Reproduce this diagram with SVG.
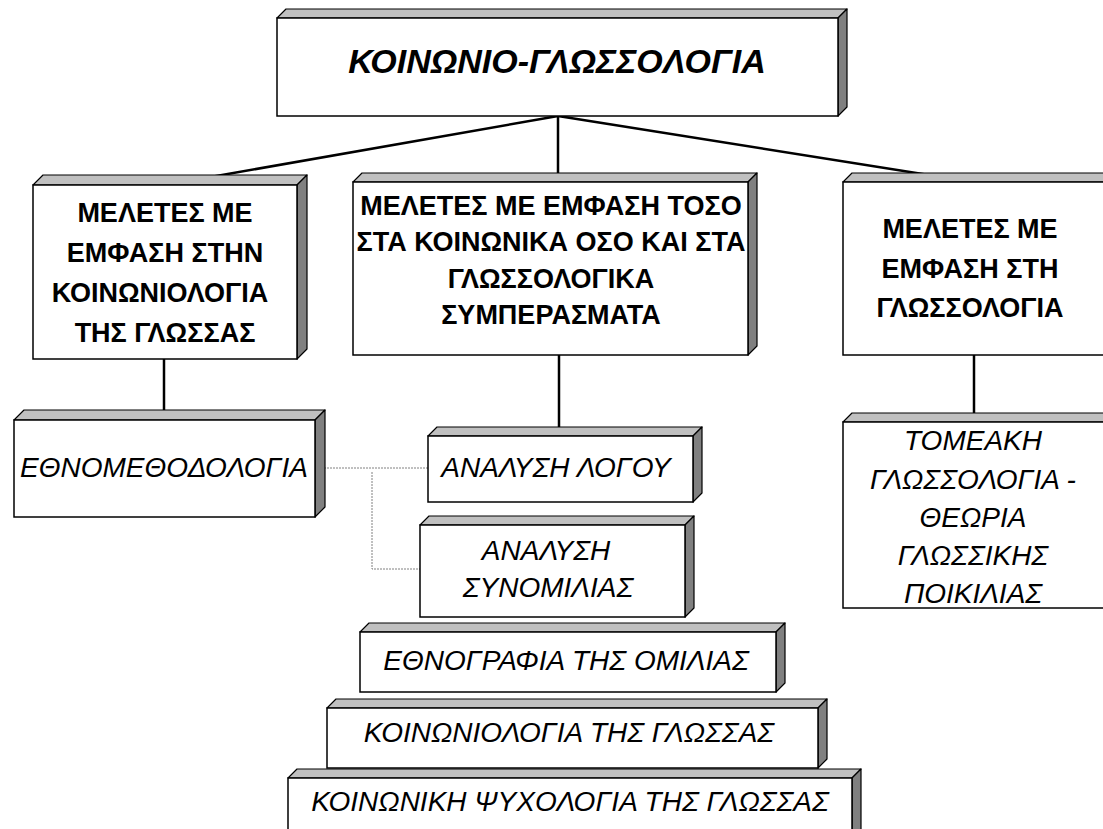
<svg xmlns="http://www.w3.org/2000/svg" width="1103" height="829" viewBox="0 0 1103 829">
  <style>
    .front { fill: #ffffff; stroke: #000000; stroke-width: 1.5; }
    .top { fill: #c0c0c0; stroke: #000000; stroke-width: 1.2; stroke-linejoin: round; }
    .side { fill: #808080; stroke: #000000; stroke-width: 1.2; stroke-linejoin: round; }
    .bold { font-family: "Liberation Sans", Arial, sans-serif; font-weight: bold; font-size: 27px; fill: #000; text-anchor: middle; }
    .title { font-family: "Liberation Sans", Arial, sans-serif; font-weight: bold; font-style: italic; font-size: 34px; fill: #000; text-anchor: middle; }
    .ital { font-family: "Liberation Sans", Arial, sans-serif; font-style: italic; font-size: 28px; fill: #000; text-anchor: middle; }
    .link { stroke: #000000; stroke-width: 2.5; fill: none; }
    .dot { stroke: #808080; stroke-width: 1; stroke-dasharray: 2 1; fill: none; }
  </style>

  <!-- connectors -->
  <g id="connectors">
    <line class="link" x1="558" y1="116" x2="165" y2="185"/>
    <line class="link" x1="558" y1="116" x2="558" y2="182"/>
    <line class="link" x1="558" y1="116" x2="973" y2="182"/>
    <line class="link" x1="164" y1="359" x2="164" y2="420"/>
    <line class="link" x1="559" y1="355" x2="559" y2="436"/>
    <line class="link" x1="974" y1="355" x2="974" y2="422"/>
    <polyline class="dot" points="315,468 428,468"/>
    <polyline class="dot" points="372,472 372,569 420,569"/>
  </g>

  <!-- title block -->
  <g id="n-title">
    <polygon class="top" points="277,18 286,9 847,9 838,18"/>
    <polygon class="side" points="838,18 847,9 847,107 838,116"/>
    <rect class="front" x="277" y="18" width="561" height="98"/>
    <text class="title" x="557" y="73">ΚΟΙΝΩΝΙΟ-ΓΛΩΣΣΟΛΟΓΙΑ</text>
  </g>

  <g id="n-sociology">
    <polygon class="top" points="33,185 43,175 307,175 297,185"/>
    <polygon class="side" points="297,185 307,175 307,349 297,359"/>
    <rect class="front" x="33" y="185" width="264" height="174"/>
    <text class="bold" x="165" y="222">ΜΕΛΕΤΕΣ ΜΕ</text>
    <text class="bold" x="165" y="262">ΕΜΦΑΣΗ ΣΤΗΝ</text>
    <text class="bold" x="160" y="302">ΚΟΙΝΩΝΙΟΛΟΓΙΑ</text>
    <text class="bold" x="165" y="342">ΤΗΣ ΓΛΩΣΣΑΣ</text>
  </g>

  <g id="n-both">
    <polygon class="top" points="353,182 362,173 757,173 748,182"/>
    <polygon class="side" points="748,182 757,173 757,346 748,355"/>
    <rect class="front" x="353" y="182" width="395" height="173"/>
    <text class="bold" x="551" y="215">ΜΕΛΕΤΕΣ ΜΕ ΕΜΦΑΣΗ ΤΟΣΟ</text>
    <text class="bold" x="551" y="251">ΣΤΑ ΚΟΙΝΩΝΙΚΑ ΟΣΟ ΚΑΙ ΣΤΑ</text>
    <text class="bold" x="551" y="288">ΓΛΩΣΣΟΛΟΓΙΚΑ</text>
    <text class="bold" x="551" y="324">ΣΥΜΠΕΡΑΣΜΑΤΑ</text>
  </g>

  <g id="n-linguistics">
    <polygon class="top" points="843,182 852,173 1120,173 1111,182"/>
    <rect class="front" x="843" y="182" width="268" height="173"/>
    <text class="bold" x="970" y="238">ΜΕΛΕΤΕΣ ΜΕ</text>
    <text class="bold" x="970" y="278">ΕΜΦΑΣΗ ΣΤΗ</text>
    <text class="bold" x="970" y="317">ΓΛΩΣΣΟΛΟΓΙΑ</text>
  </g>

  <g id="n-ethnomethodology">
    <polygon class="top" points="14,420 24,410 325,410 315,420"/>
    <polygon class="side" points="315,420 325,410 325,507 315,517"/>
    <rect class="front" x="14" y="420" width="301" height="97"/>
    <text class="ital" x="164" y="477">ΕΘΝΟΜΕΘΟΔΟΛΟΓΙΑ</text>
  </g>

  <g id="n-discourse">
    <polygon class="top" points="428,436 437,427 702,427 693,436"/>
    <polygon class="side" points="693,436 702,427 702,493 693,502"/>
    <rect class="front" x="428" y="436" width="265" height="66"/>
    <text class="ital" x="556" y="477">ΑΝΑΛΥΣΗ ΛΟΓΟΥ</text>
  </g>

  <g id="n-conversation">
    <polygon class="top" points="420,525 429,516 694,516 685,525"/>
    <polygon class="side" points="685,525 694,516 694,608 685,617"/>
    <rect class="front" x="420" y="525" width="265" height="92"/>
    <text class="ital" x="546" y="560">ΑΝΑΛΥΣΗ</text>
    <text class="ital" x="548" y="597">ΣΥΝΟΜΙΛΙΑΣ</text>
  </g>

  <g id="n-ethnography">
    <polygon class="top" points="360,632 369,623 785,623 776,632"/>
    <polygon class="side" points="776,632 785,623 785,683 776,692"/>
    <rect class="front" x="360" y="632" width="416" height="60"/>
    <text class="ital" x="566" y="670">ΕΘΝΟΓΡΑΦΙΑ ΤΗΣ ΟΜΙΛΙΑΣ</text>
  </g>

  <g id="n-sociology-of-language">
    <polygon class="top" points="327,708 336,699 827,699 818,708"/>
    <polygon class="side" points="818,708 827,699 827,759 818,768"/>
    <rect class="front" x="327" y="708" width="491" height="60"/>
    <text class="ital" x="569" y="742">ΚΟΙΝΩΝΙΟΛΟΓΙΑ ΤΗΣ ΓΛΩΣΣΑΣ</text>
  </g>

  <g id="n-social-psychology">
    <polygon class="top" points="288,778 297,769 861,769 852,778"/>
    <polygon class="side" points="852,778 861,769 861,840 852,849"/>
    <rect class="front" x="288" y="778" width="564" height="70"/>
    <text class="ital" x="570" y="811">ΚΟΙΝΩΝΙΚΗ ΨΥΧΟΛΟΓΙΑ ΤΗΣ ΓΛΩΣΣΑΣ</text>
  </g>

  <g id="n-variation">
    <polygon class="top" points="843,422 852,413 1120,413 1111,422"/>
    <rect class="front" x="843" y="422" width="268" height="186"/>
    <text class="ital" x="973" y="450">ΤΟΜΕΑΚΗ</text>
    <text class="ital" x="973" y="489">ΓΛΩΣΣΟΛΟΓΙΑ -</text>
    <text class="ital" x="973" y="527">ΘΕΩΡΙΑ</text>
    <text class="ital" x="973" y="565">ΓΛΩΣΣΙΚΗΣ</text>
    <text class="ital" x="973" y="603">ΠΟΙΚΙΛΙΑΣ</text>
  </g>
</svg>
